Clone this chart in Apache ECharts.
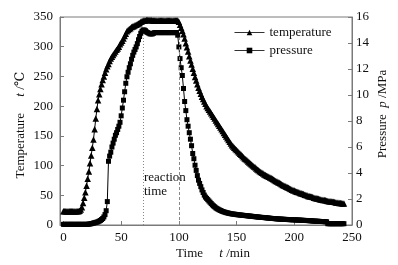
<!DOCTYPE html>
<html><head><meta charset="utf-8">
<script src="https://cdn.jsdelivr.net/npm/echarts@6/dist/echarts.min.js"></script>
<style>html,body{margin:0;padding:0;background:#fff}#c{width:398px;height:265px}</style>
</head><body><div id="c"></div>
<script>
// temperature (°C), one reading per minute starting at t = 0 min
const temperature = [
23,23,23,23,23,23,23,23,23,23,23,23,23,23,
24,26,30,37,46,55,66,78,90,104,117,130,144,161,179,195,
210,220,229,237,244,250,256,262,267,271,
276,280,283,286,289,292,295,297,300,304,
307,310,314,318,322,326,328,330,331,333,
334,335,336,337,338,339,340,342,343,344,
344,344,345,345,345,345,345,344,344,344,344,344,344,344,344,344,344,344,344,344,344,344,344,344,344,344,344,344,344,344,
342,337,332,327,321,314,306,299,292,284,
277,270,263,256,249,243,237,231,226,221,
216,212,208,204,200,197,194,191,188,185,
182,179,176,173,170,167,164,161,158,155,
152,149,146,143,140,137,134,132,130,128,
126,124,122,120,118,116,114,112,110.5,109,
107,105,103.5,102,100,98.5,97,95,93.5,92,
90.5,89,88,86.5,85,84,83,82,81,80,
79,78,76.5,75.5,74,73,72,71,70,68.5,
67.5,66.5,65.5,64.5,63.5,62.5,61.5,60.5,59.5,58.5,
58,57,56,55.5,55,54,53.5,52.5,52,51,
50.5,50,49,48.5,48,47.5,47,46,45.5,45,
44.5,44,43.5,43,42.5,42,42,41.5,41,40.5,
40,40,39.5,39,39,38.5,38,38,37.5,37,
37,36.5,36,36
];
// pressure (MPa), one reading per minute starting at t = 0 min
const pressure = [
0.05,0.05,0.05,0.05,0.05,0.05,0.05,0.05,0.05,0.05,0.05,0.05,0.05,0.05,0.05,0.05,0.05,0.05,0.05,0.05,0.05,0.05,
0.07,0.08,0.1,0.12,0.15,0.17,0.2,0.22,
0.25,0.3,0.35,0.42,0.5,0.62,0.8,1.1,1.8,4.9,
5.3,5.6,6.0,6.3,6.6,6.9,7.1,7.35,7.6,7.9,
8.4,9.0,9.6,10.25,10.9,11.4,11.75,12.1,12.4,12.75,
13.05,13.3,13.5,13.7,13.95,14.25,14.5,14.75,14.9,15.0,
15.0,14.95,14.85,14.8,14.75,14.7,14.7,14.7,14.75,14.8,
14.8,14.8,14.8,14.8,14.8,14.8,14.8,14.8,14.8,14.8,14.8,14.8,14.8,14.8,14.8,14.8,14.8,14.8,14.8,
14.6,
13.7,12.8,12.1,11.5,10.5,9.5,8.8,8.1,7.6,7.1,
6.6,6.1,5.5,5.1,4.6,4.2,3.8,3.45,3.2,2.95,
2.7,2.5,2.3,2.15,2.05,1.95,1.85,1.75,1.65,1.55,
1.47,1.4,1.32,1.26,1.21,1.16,1.12,1.08,1.04,1.01,
0.98,0.95,0.93,0.91,0.89,0.87,0.85,0.84,0.83,0.82,
0.8,0.79,0.78,0.77,0.76,0.75,0.74,0.73,0.72,0.71,
0.7,0.69,0.68,0.67,0.66,0.65,0.64,0.63,0.62,0.61,
0.6,0.59,0.58,0.58,0.57,0.56,0.55,0.54,0.53,0.52,
0.51,0.5,0.5,0.49,0.48,0.47,0.47,0.46,0.45,0.45,
0.44,0.44,0.43,0.43,0.42,0.42,0.41,0.41,0.4,0.4,
0.4,0.39,0.39,0.38,0.38,0.37,0.37,0.36,0.36,0.35,
0.35,0.34,0.34,0.33,0.33,0.32,0.31,0.3,0.3,0.29,
0.29,0.28,0.28,0.27,0.27,0.26,0.26,0.25,0.25,0.1,
0.1,0.1,0.1,0.1,0.1,0.1,0.1,0.1,0.1,0.1,0.1,0.1,0.1,0.1
];
const timeTicks = [0, 50, 100, 150, 200, 250];
const tempRange = [0, 350], tempStep = 50;
const pressRange = [0, 16], pressStep = 2;
const reactionMarks = [69, 100];
const reactionTop = 14.4;
const seriesNames = ['temperature', 'pressure'];

const FONT = '"Liberation Serif", "DejaVu Serif", serif';
const AX = '#7a7a7a';
const tempData = temperature.map((v, i) => [i, v]);
const pressData = pressure.map((v, i) => [i, v]);

const chart = echarts.init(document.getElementById('c'), null, {renderer: 'canvas'});
chart.setOption({
  animation: false,
  backgroundColor: '#fff',
  grid: {left: 60, right: 46, top: 17, bottom: 40, containLabel: false, outerBoundsMode: 'none',
         show: true, borderColor: AX, borderWidth: 1},
  legend: {
    data: seriesNames, orient: 'vertical', left: 234, top: 26, padding: 0,
    itemWidth: 30, itemHeight: 7, itemGap: 5,
    lineStyle: {width: 1, color: '#333'},
    textStyle: {fontFamily: FONT, fontSize: 13, color: '#111'}
  },
  xAxis: {
    type: 'value', min: -3, max: 250,
    axisLine: {show: true, onZero: false, lineStyle: {color: AX}},
    axisTick: {show: true, inside: true, length: 4, customValues: timeTicks, lineStyle: {color: AX}},
    axisLabel: {customValues: timeTicks, margin: 6, fontFamily: FONT, fontSize: 13, color: '#111'},
    splitLine: {show: false}
  },
  yAxis: [{
    type: 'value', position: 'left', min: tempRange[0], max: tempRange[1], interval: tempStep,
    axisLine: {show: true, onZero: false, lineStyle: {color: AX}},
    axisTick: {show: true, inside: true, length: 4, lineStyle: {color: AX}},
    axisLabel: {margin: 7, fontFamily: FONT, fontSize: 13, color: '#111'},
    splitLine: {show: false}
  }, {
    type: 'value', position: 'right', min: pressRange[0], max: pressRange[1], interval: pressStep,
    axisLine: {show: true, onZero: false, lineStyle: {color: AX}},
    axisTick: {show: true, inside: true, length: 4, lineStyle: {color: AX}},
    axisLabel: {margin: 4, fontFamily: FONT, fontSize: 13, color: '#111'},
    splitLine: {show: false}
  }],
  series: [{
    name: seriesNames[0], type: 'line', yAxisIndex: 0, data: tempData,
    symbol: 'triangle', symbolSize: 6.5, showAllSymbol: true,
    lineStyle: {color: '#000', width: 1}, itemStyle: {color: '#000'}
  }, {
    name: seriesNames[1], type: 'line', yAxisIndex: 1, data: pressData,
    symbol: 'rect', symbolSize: 5, showAllSymbol: true,
    lineStyle: {color: '#000', width: 1}, itemStyle: {color: '#000'},
    markLine: {
      silent: true, symbol: 'none', label: {show: false}, animation: false,
      data: [
        [{coord: [reactionMarks[0], 0], lineStyle: {type: [1, 2], color: '#888', width: 1}},
         {coord: [reactionMarks[0], reactionTop]}],
        [{coord: [reactionMarks[1], 0], lineStyle: {type: [3, 2], color: '#888', width: 1}},
         {coord: [reactionMarks[1], reactionTop]}]
      ]
    }
  }],
  graphic: [
    {type: 'text', left: 144, top: 170, style: {text: 'reaction\ntime', fontFamily: FONT, fontSize: 13, lineHeight: 14.5, fill: '#111'}},
    {type: 'text', x: 213, y: 254, style: {text: 'Time     {i|t} /min', textAlign: 'center', textVerticalAlign: 'middle', fontFamily: FONT, fontSize: 13, fill: '#111',
      rich: {i: {fontStyle: 'italic', fontFamily: FONT, fontSize: 13}}}},
    {type: 'text', x: 21, y: 125, rotation: Math.PI / 2, style: {text: 'Temperature     {i|t} /℃', textAlign: 'center', textVerticalAlign: 'middle', fontFamily: FONT, fontSize: 13, fill: '#111',
      rich: {i: {fontStyle: 'italic', fontFamily: FONT, fontSize: 13}}}},
    {type: 'text', x: 383, y: 114, rotation: Math.PI / 2, style: {text: 'Pressure  {i|p} /MPa', textAlign: 'center', textVerticalAlign: 'middle', fontFamily: FONT, fontSize: 13, fill: '#111',
      rich: {i: {fontStyle: 'italic', fontFamily: FONT, fontSize: 13}}}}
  ]
});
</script></body></html>
